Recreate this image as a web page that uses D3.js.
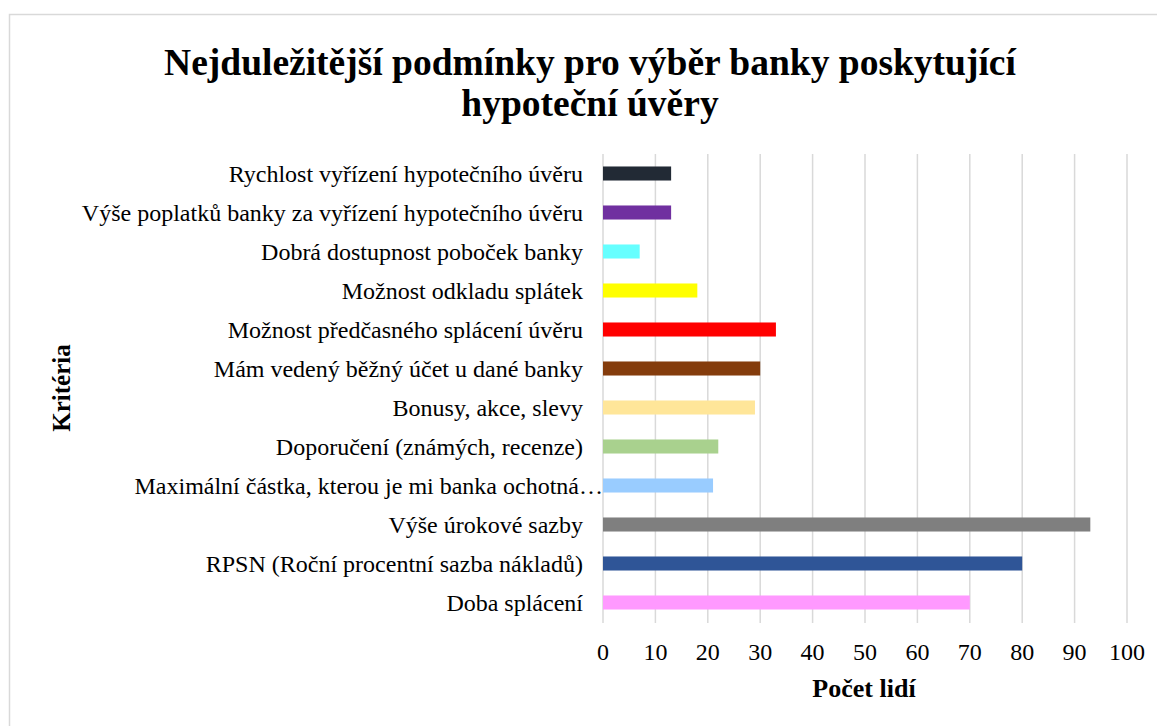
<!DOCTYPE html>
<html>
<head>
<meta charset="utf-8">
<script src="https://cdn.jsdelivr.net/npm/d3@7"></script>
<style>
  body { margin: 0; background: #fff; }
  text { font-family: "Liberation Serif", "Times New Roman", serif; fill: #000; }
</style>
</head>
<body>
<div id="chart"></div>
<script>
//chart data, top row first
var categories = [
  "Rychlost vyřízení hypotečního úvěru",
  "Výše poplatků banky za vyřízení hypotečního úvěru",
  "Dobrá dostupnost poboček banky",
  "Možnost odkladu splátek",
  "Možnost předčasného splácení úvěru",
  "Mám vedený běžný účet u dané banky",
  "Bonusy, akce, slevy",
  "Doporučení (známých, recenze)",
  "Maximální částka, kterou je mi banka ochotná…",
  "Výše úrokové sazby",
  "RPSN (Roční procentní sazba nákladů)",
  "Doba splácení"
];
var values = [13, 13, 7, 18, 33, 30, 29, 22, 21, 93, 80, 70];
var colors = ["#222a35", "#7030a0", "#66ffff", "#ffff00", "#ff0000", "#843c0c",
              "#ffe699", "#a9d18e", "#99ccff", "#7f7f7f", "#2f5597", "#ff99ff"];
var xTicks = [0, 10, 20, 30, 40, 50, 60, 70, 80, 90, 100];

var titleLines = ["Nejduležitější podmínky pro výběr banky poskytující", "hypoteční úvěry"];
var xTitle = "Počet lidí";
var yTitle = "Kritéria";

var w = 1157,
    h = 726;

var svg = d3.select("#chart").append("svg")
    .attr("width", w)
    .attr("height", h);

//chart frame
svg.append("rect")
    .attr("x", 9.5)
    .attr("y", 14.5)
    .attr("width", 1160)
    .attr("height", 760)
    .attr("fill", "none")
    .attr("stroke", "#d9d9d9")
    .attr("stroke-width", 1.5);

var x = d3.scaleLinear()
    .domain([0, 100])
    .range([603, 1127]);

var y = d3.scaleBand()
    .domain(categories)
    .range([154, 622])
    .paddingInner(0.64)
    .paddingOuter(0.32);

//vertical gridlines
svg.append("g").selectAll("line")
    .data(xTicks)
  .enter().append("line")
    .attr("x1", function(d) { return x(d); })
    .attr("x2", function(d) { return x(d); })
    .attr("y1", 154)
    .attr("y2", 623)
    .attr("stroke", "#d9d9d9")
    .attr("stroke-width", 1.5);

//bars
svg.append("g").selectAll("rect")
    .data(values)
  .enter().append("rect")
    .attr("x", x(0))
    .attr("y", function(d, i) { return y(categories[i]); })
    .attr("width", function(d) { return x(d) - x(0); })
    .attr("height", y.bandwidth())
    .attr("fill", function(d, i) { return colors[i]; });

//category labels
svg.append("g").selectAll("text")
    .data(categories)
  .enter().append("text")
    .text(function(d) { return d; })
    .attr("x", function(d) { return d.slice(-1) === "…" ? 603 : 583; })
    .attr("y", function(d) { return y(d) + y.bandwidth() / 2; })
    .attr("dy", "0.35em")
    .attr("text-anchor", "end")
    .attr("font-size", 24);

//tick labels
svg.append("g").selectAll("text")
    .data(xTicks)
  .enter().append("text")
    .text(function(d) { return d; })
    .attr("x", function(d) { return x(d); })
    .attr("y", 660)
    .attr("text-anchor", "middle")
    .attr("font-size", 24);

//title
svg.append("g").selectAll("text")
    .data(titleLines)
  .enter().append("text")
    .text(function(d) { return d; })
    .attr("x", 590)
    .attr("y", function(d, i) { return 75 + i * 41; })
    .attr("text-anchor", "middle")
    .attr("font-size", 37.5)
    .attr("font-weight", "bold");

//axis titles
svg.append("text")
    .text(xTitle)
    .attr("x", 864)
    .attr("y", 697)
    .attr("text-anchor", "middle")
    .attr("font-size", 26)
    .attr("font-weight", "bold");

svg.append("text")
    .text(yTitle)
    .attr("transform", "translate(70,388) rotate(-90)")
    .attr("text-anchor", "middle")
    .attr("font-size", 25)
    .attr("font-weight", "bold");
</script>
</body>
</html>
